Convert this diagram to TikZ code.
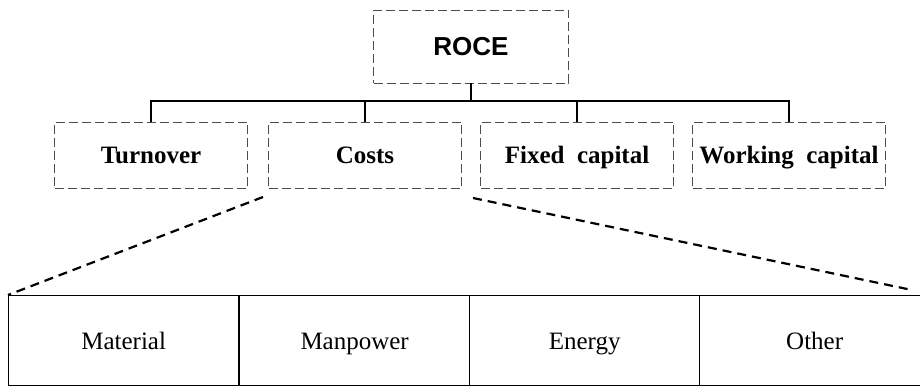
\documentclass[tikz,border=0pt]{standalone}
\usepackage{fontspec}
\setmainfont{Liberation Serif}
\setsansfont{Liberation Sans}
\usepackage{tikz}
\usetikzlibrary{positioning}

\begin{document}
\begin{tikzpicture}[x=1pt, y=-1pt,
    topbox/.style={draw=black!70, line width=0.6pt, dash pattern=on 9pt off 4pt,
        minimum width=195pt, minimum height=73pt, font=\sffamily\bfseries\fontsize{26}{30}\selectfont},
    factor/.style={draw=black!70, line width=0.6pt, dash pattern=on 9pt off 4pt,
        minimum width=193pt, minimum height=66pt, text height=17pt, text depth=0pt,
        font=\bfseries\fontsize{25}{29}\selectfont},
    part/.style={draw, line width=1.3pt, minimum width=230pt, minimum height=90pt,
        text height=17pt, text depth=0pt, font=\fontsize{25}{29}\selectfont, inner sep=0pt},
    tree/.style={line width=1.6pt},
    zoomline/.style={line width=2.2pt, dash pattern=on 9pt off 6pt}]

\useasboundingbox (0,0) rectangle (920,386);

% Top of the tree
\node[topbox] (roce) at (471,46.5) {ROCE};

% The four factors
\node[factor] (turnover) at (151,155) {Turnover};
\node[factor] (costs)    at (365,155) {Costs};
\node[factor] (fixed)    at (577,155) {Fixed\ \ capital};
\node[factor] (working)  at (789,155) {Working\ \ capital};

% Branches
\coordinate (branch) at (471,101);
\draw[tree] (roce.south) -- (branch);
\draw[tree] (turnover.north) |- (branch) -| (working.north);
\draw[tree] (costs.north) -- (costs.north |- branch);
\draw[tree] (fixed.north) -- (fixed.north |- branch);

% Breakdown of costs
\node[part, anchor=north west] (material) at (8,295) {Material};
\node[part, anchor=north west] (manpower) at (239,295) {Manpower};
\node[part, anchor=north west] (energy)   at (469,295) {Energy};
\node[part, anchor=north west] (other)    at (699,295) {Other};

% Zoom lines from costs
\coordinate (zleft)  at (263,197);
\coordinate (zright) at (473,198);
\coordinate (zend)   at (912,290);
\draw[zoomline] (zleft) -- (material.north west);
\draw[zoomline] (zright) -- (zend);

\end{tikzpicture}
\end{document}
